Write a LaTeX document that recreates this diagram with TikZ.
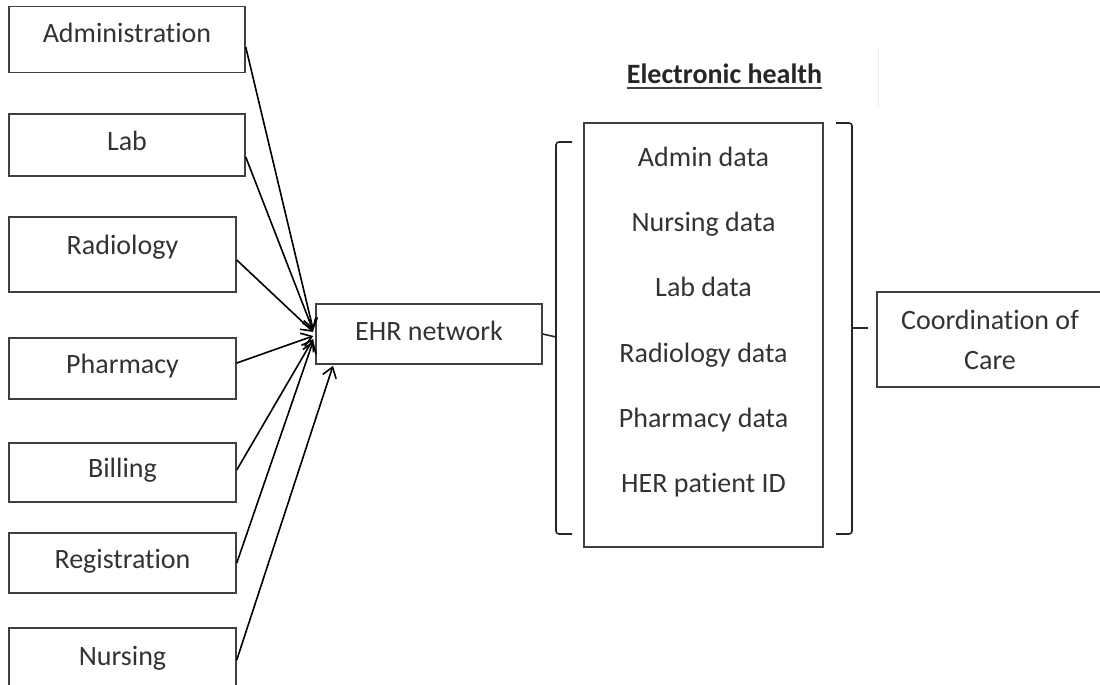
\documentclass[tikz,border=0pt]{standalone}
\usepackage{fontspec}
\setmainfont[Ligatures=NoCommon]{Carlito}
\usetikzlibrary{arrows.meta}

\tikzset{
  box/.style={draw=black!75, line width=1.5pt, inner sep=0pt, align=center,
              text=black!80, font=\fontsize{28}{40}\selectfont},
  oneline/.style={text height=17pt, text depth=7pt},
  datatext/.style={anchor=base, inner sep=0pt, text=black!80,
              font=\fontsize{28}{40}\selectfont},
  feed/.style={line width=1.6pt, black,
              -{Straight Barb[length=10pt,width=14pt,line width=1.6pt]}},
  bracket/.style={line width=1.6pt, black!85, rounded corners=3pt},
}

\begin{document}
\begin{tikzpicture}[x=1pt, y=-1pt]
  \useasboundingbox (0,0) rectangle (1100,685);
  \clip (0,0) rectangle (1100,685);

  % source systems
  \node[box, oneline, minimum width=236pt, minimum height=66pt, text depth=11pt] (admin) at (127,39.7) {Administration};
  \node[box, oneline, minimum width=236pt, minimum height=62pt] (lab) at (127,145) {Lab};
  \node[box, oneline, minimum width=227pt, minimum height=75pt, text depth=18pt] (rad) at (122.5,254.5) {Radiology};
  \node[box, oneline, minimum width=227pt, minimum height=61pt] (pharm) at (122.5,368.5) {Pharmacy};
  \node[box, oneline, minimum width=227pt, minimum height=59pt] (bill) at (122.5,472.5) {Billing};
  \node[box, oneline, minimum width=227pt, minimum height=60pt] (reg) at (122.5,563) {Registration};
  \node[box, oneline, minimum width=227pt, minimum height=64pt] (nurse) at (122.5,660) {Nursing};

  % central network
  \node[box, oneline, minimum width=226pt, minimum height=60pt, text depth=5pt] (ehr) at (429,334) {EHR network};

  % feeds into the network
  \draw[feed] ([yshift=-7.3pt]admin.east) -- ([xshift=-2pt,yshift=4pt]ehr.west);
  \draw[feed] ([yshift=-12pt]lab.east) -- ([xshift=-2pt,yshift=3pt]ehr.west);
  \draw[feed] ([yshift=-5.5pt]rad.east) -- ([xshift=-2pt,yshift=2pt]ehr.west);
  \draw[feed] ([yshift=5.5pt]pharm.east) -- ([xshift=-2pt,yshift=-2pt]ehr.west);
  \draw[feed] ([yshift=2.5pt]bill.east) -- ([xshift=-2pt,yshift=-5pt]ehr.west);
  \draw[feed] (reg.east) -- ([xshift=-2pt,yshift=-7pt]ehr.west);
  \draw[feed] (nurse.east) -- ([xshift=-96pt,yshift=-1pt]ehr.south);

  % electronic health record contents
  \node[anchor=base, inner sep=0pt, text=black!85,
        font=\fontsize{28}{40}\selectfont\bfseries] (title) at (724.5,83) {Electronic health};
  \draw[line width=1.8pt, black!75] ([yshift=-5pt]title.base west) -- ([yshift=-5pt]title.base east);
  \draw[black!8, line width=1pt] (878,47) -- (878,106);

  \node[draw=black!75, line width=1.5pt, minimum width=239pt, minimum height=424pt] (record) at (703.5,335) {};
  \node[datatext] (d1) at (703.5,166) {Admin data};
  \node[datatext] (d2) at (703.5,231) {Nursing data};
  \node[datatext] (d3) at (703.5,296) {Lab data};
  \node[datatext] (d4) at (703.5,362) {Radiology data};
  \node[datatext] (d5) at (703.5,427) {Pharmacy data};
  \node[datatext] (d6) at (703.5,492) {HER patient ID};

  % brackets around the record
  \coordinate (lb) at (556,337);
  \draw[bracket] (572,142) -- (556,142) -- (556,534) -- (572,534);
  \draw[line width=1.6pt, black!85] (ehr.east) -- (lb);

  \coordinate (rb) at (868,328);
  \draw[bracket] (836,123) -- (852,123) -- (852,534) -- (836,534);
  \draw[line width=1.6pt, black!85] (852,328) -- (rb);

  % outcome
  \node[box, minimum width=226pt, minimum height=95pt] (coord) at (990,339.5) {Coordination of\\Care};
\end{tikzpicture}
\end{document}
